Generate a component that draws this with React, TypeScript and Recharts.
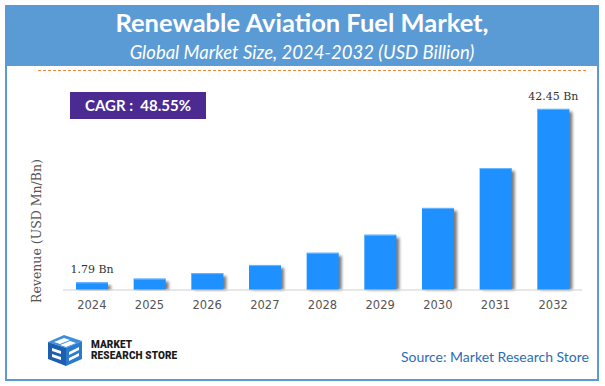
import { BarChart, Bar, XAxis, YAxis, LabelList } from "recharts"

const years = ["2024", "2025", "2026", "2027", "2028", "2029", "2030", "2031", "2032"]
const revenue = [1.79, 2.66, 3.95, 5.87, 8.72, 12.95, 19.24, 28.58, 42.45]
const labelledYears = ["2024", "2032"]

const data = years.map((year, i) => ({
  year,
  revenue: revenue[i],
  label: labelledYears.includes(year) ? `${revenue[i]} Bn` : "",
}))

function ShadowBar(props: any) {
  const { x, y, width, height } = props
  if (!height || height <= 0) return null
  return (
    <g>
      <rect
        x={x + 3}
        y={y + 3}
        width={width}
        height={Math.max(height - 3, 0)}
        fill="#7a7a7a"
        filter="url(#barShadow)"
      />
      <rect x={x} y={y} width={width} height={height} fill="#1e90ff" />
      <rect x={x} y={y} width={width} height={1} fill="#6bb6ff" />
    </g>
  )
}

function BarLabel(props: any) {
  const { x, y, width, value } = props
  if (!value) return null
  return (
    <text
      x={x + width / 2}
      y={y - 9}
      textAnchor="middle"
      fill="#333333"
      fontSize={11}
      fontFamily="DejaVu Serif"
    >
      {value}
    </text>
  )
}

function Logo() {
  return (
    <svg width={38} height={34} viewBox="0 0 38 34" style={{ position: "absolute", left: 46, top: 333 }}>
      <polygon points="2,9 18,2 36,8 20,15" fill="#3d8fdc" />
      <polygon points="2,9 20,15 20,33 2,26" fill="#1d5fae" />
      <polygon points="20,15 36,8 36,26 20,33" fill="#2a7acd" />
      <polygon points="8,9 18,5 24,7 14,11" fill="#ffffff" />
      <polygon points="14,12 24,8 30,10 20,14" fill="#ffffff" />
      <polygon points="6,15 15,18 15,21 6,18" fill="#ffffff" />
      <polygon points="6,21 15,24 15,27 6,24" fill="#ffffff" />
      <polygon points="23,19 33,14 33,17 23,22" fill="#ffffff" />
      <polygon points="23,25 33,20 33,23 23,28" fill="#ffffff" />
    </svg>
  )
}

export default function App() {
  return (
    <div
      style={{
        position: "absolute",
        left: 0,
        top: 0,
        width: 605,
        height: 386,
        background: "#ffffff",
        overflow: "hidden",
      }}
    >
      <svg width={0} height={0} style={{ position: "absolute" }}>
        <defs>
          <filter id="barShadow" x="-50%" y="-10%" width="200%" height="120%">
            <feGaussianBlur stdDeviation="1.8" />
          </filter>
        </defs>
      </svg>

      {/* frame + header */}
      <div
        style={{
          position: "absolute",
          left: 5,
          top: 5,
          width: 590,
          height: 372,
          border: "2px solid #5b9bd5",
        }}
      />
      <div style={{ position: "absolute", left: 5, top: 5, width: 594, height: 61, background: "#5b9bd5" }} />
      <div
        style={{
          position: "absolute",
          left: 5,
          top: 7,
          width: 594,
          textAlign: "center",
          color: "#ffffff",
          fontFamily: "Lato",
          fontWeight: 700,
          fontSize: 25.5,
          lineHeight: "30px",
        }}
      >
        Renewable Aviation Fuel Market,
      </div>
      <div
        style={{
          position: "absolute",
          left: 5,
          top: 41,
          width: 594,
          textAlign: "center",
          color: "#ffffff",
          fontFamily: "Lato",
          fontStyle: "italic",
          fontSize: 18.5,
          lineHeight: "22px",
        }}
      >
        Global Market Size, 2024-2032 (USD Billion)
      </div>
      <div
        style={{
          position: "absolute",
          left: 38,
          top: 70,
          width: 548,
          borderTop: "1px dashed #f0883a",
        }}
      />

      {/* CAGR badge */}
      <div
        style={{
          position: "absolute",
          left: 70,
          top: 92,
          width: 136,
          height: 27,
          background: "#4b2a92",
          color: "#ffffff",
          fontFamily: "Lato",
          fontWeight: 700,
          fontSize: 15,
          lineHeight: "27px",
          textAlign: "center",
        }}
      >
        CAGR :&nbsp; 48.55%
      </div>

      {/* y axis title */}
      <div
        style={{
          position: "absolute",
          left: 37 - 80,
          top: 231 - 9,
          width: 160,
          height: 18,
          lineHeight: "18px",
          textAlign: "center",
          transform: "rotate(-90deg)",
          fontFamily: "DejaVu Serif",
          fontSize: 12.5,
          color: "#555555",
          whiteSpace: "nowrap",
        }}
      >
        Revenue (USD Mn/Bn)
      </div>

      <div style={{ position: "absolute", left: 0, top: 0 }}>
        <BarChart width={605} height={386} data={data} margin={{ top: 98, right: 23, left: 63, bottom: 66 }}>
          <XAxis
            dataKey="year"
            height={30}
            axisLine={{ stroke: "#d0d0d0" }}
            tickLine={false}
            tickMargin={5}
            tick={{ fill: "#555555", fontSize: 11.5, fontFamily: "DejaVu Sans" }}
          />
          <YAxis hide domain={[0, 45]} />
          <Bar dataKey="revenue" barSize={32} shape={ShadowBar} isAnimationActive={false}>
            <LabelList dataKey="label" content={BarLabel} />
          </Bar>
        </BarChart>
      </div>

      {/* footer */}
      <Logo />
      <div
        style={{
          position: "absolute",
          left: 91,
          top: 339,
          fontFamily: "Roboto",
          fontWeight: 900,
          fontSize: 10,
          lineHeight: "11px",
          color: "#1a1a1a",
          letterSpacing: 0.1,
        }}
      >
        MARKET
        <br />
        RESEARCH STORE
      </div>
      <div
        style={{
          position: "absolute",
          right: 16,
          top: 348,
          fontFamily: "Lato",
          fontSize: 14,
          color: "#2e6db4",
        }}
      >
        Source: Market Research Store
      </div>
    </div>
  )
}
